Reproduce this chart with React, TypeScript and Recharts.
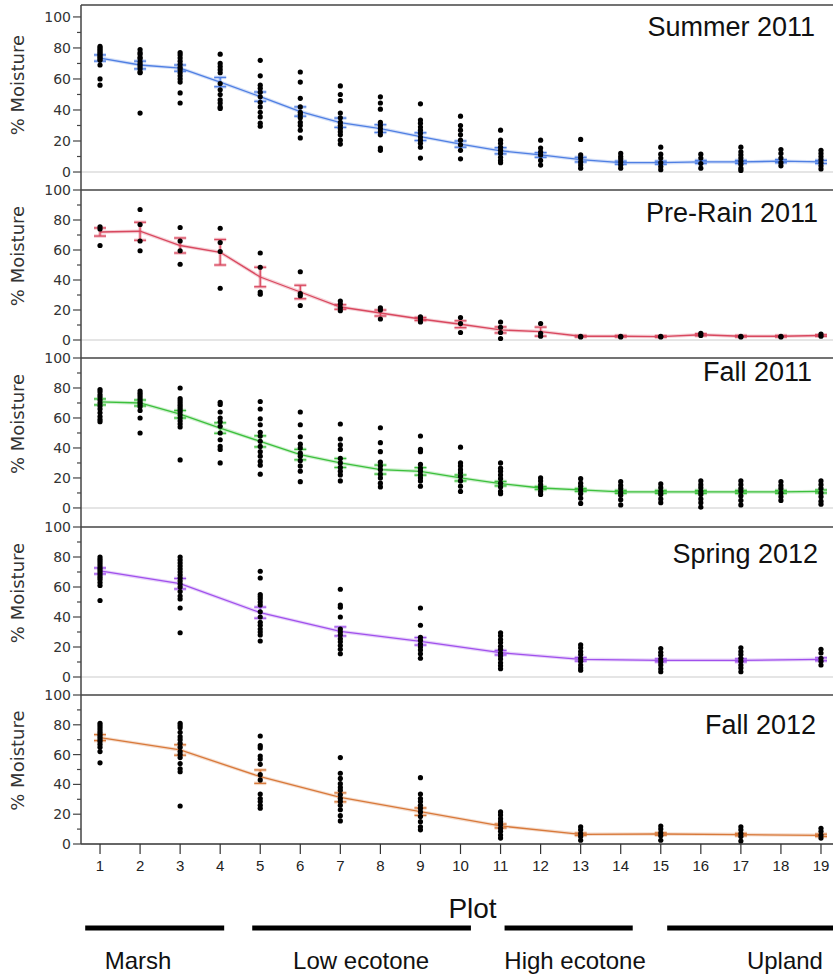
import {
  ComposedChart,
  Scatter,
  Line,
  ErrorBar,
  XAxis,
  YAxis,
  ReferenceLine,
  ReferenceDot,
} from "recharts";

// plots sampled in each season
const allPlots = [1, 2, 3, 4, 5, 6, 7, 8, 9, 10, 11, 12, 13, 14, 15, 16, 17, 18, 19];
const oddPlots = [1, 3, 5, 7, 9, 11, 13, 15, 17, 19];
const yTicks = [0, 10, 20, 30, 40, 50, 60, 70, 80, 90, 100];

// Summer 2011
const summerMean = [73.5, 69, 67, 58, 48.6, 39, 31.8, 28, 22.8, 18, 13.7, 11, 8, 6, 6, 6.5, 6.5, 7, 6.5];
const summerSE = [2, 2.5, 2, 3, 3, 3, 3, 2.5, 2.5, 2, 2, 1.5, 1.5, 1, 1, 1, 1, 1, 1];
const summerDots = [
  [81, 80, 79, 78, 77, 76, 75, 74, 73, 72, 69, 60, 56],
  [79, 77, 76, 74, 73, 71, 69.5, 68, 66.5, 64.5, 64, 38],
  [77, 75.5, 73.5, 71.5, 69.5, 67.5, 66, 64, 62, 60, 58, 51, 44.5],
  [76, 70, 68, 66, 64, 57, 53, 50, 46.5, 44.5, 42, 41],
  [72, 62, 56, 54, 51.5, 48.5, 45, 42, 38.5, 35.5, 31.5, 29.5],
  [64.5, 58, 47.5, 42, 38.5, 37, 35, 32, 30, 27, 22],
  [55.5, 50, 46, 38, 35, 32, 30, 28, 26, 24, 20.5, 18],
  [48.5, 44.5, 40.5, 32, 30, 28, 26, 24, 15.5, 14],
  [44, 33.5, 31.5, 29, 27, 25, 22.5, 20.5, 18.5, 16, 9],
  [36, 30, 27, 24, 20.5, 17.5, 14, 8.5],
  [27, 20.5, 18.5, 16, 14, 12, 9.5, 7.5, 6],
  [20.5, 15.5, 13, 11, 7.5, 4.5],
  [21, 11, 9, 6.5, 4.5, 2.5],
  [12, 10, 8.5, 6.5, 4.5, 2.5],
  [16, 11.5, 9, 6, 3.5, 1.5],
  [11.5, 9, 5.5, 2.5],
  [16, 13, 11, 9, 7, 5, 2.5, 1],
  [14.5, 12, 9, 6, 4],
  [14, 12, 10, 8, 6, 4, 2],
];

// Pre-Rain 2011
const preRainMean = [72, 72.5, 63, 58.5, 42, 32, 22, 18, 14, 10.5, 6.7, 5.6, 2.5, 2.5, 2.3, 3.5, 2.5, 2.5, 3];
const preRainSE = [2.7, 6, 5, 8.5, 6.5, 4.5, 1.5, 2, 1, 2.3, 2, 3, 0.5, 0.5, 0.5, 0.7, 0.5, 0.5, 0.5];
const preRainDots = [
  [75.5, 74, 63],
  [87, 77, 66, 59.5],
  [75, 66, 59.5, 50.5],
  [74.5, 65, 59, 34.5],
  [58, 48.5, 32, 30.5],
  [45.5, 31, 29.5, 23],
  [26, 24, 21.5, 19.5],
  [21.5, 20, 14],
  [15.5, 14, 12],
  [15, 11, 5],
  [12, 8.5, 5, 1],
  [11, 4.5, 2.5],
  [2.5, 2],
  [2.5, 2],
  [2.5, 2],
  [4.5, 3],
  [2.5, 2],
  [2.5, 2],
  [4, 2.5],
];

// Fall 2011
const fall11Mean = [70.7, 70, 62.5, 53.3, 44.4, 35.6, 30, 25.6, 24.4, 20, 16.2, 13.3, 12, 10.7, 10.7, 10.7, 10.7, 10.7, 11];
const fall11SE = [2, 2, 2.5, 3.5, 3.7, 3.5, 3, 3, 2.5, 2, 1.5, 1, 1, 1, 1, 1, 1, 1, 1];
const fall11Dots = [
  [79, 77.5, 75.5, 74, 72, 70, 68, 66, 63.5, 61, 59, 57.5],
  [78, 76.5, 75, 73.5, 72, 70.5, 69, 67.5, 65, 60, 50],
  [80, 73, 71.5, 70, 68.5, 67, 65.5, 64, 62, 60, 58, 56, 54, 32],
  [70.5, 69, 64, 60, 57.5, 54.5, 50, 45.5, 41, 39, 30],
  [71, 66, 59.5, 55.5, 50.5, 48, 44.5, 41, 37.5, 34.5, 31, 28.5, 22.5],
  [64, 55.5, 47.5, 42.5, 40, 36.5, 34.5, 31.5, 28, 24.5, 17.5],
  [56, 46, 42, 39, 33, 30, 27, 24.5, 22, 18],
  [53.5, 43.5, 37.5, 30.5, 28, 25.5, 22.5, 20, 16.5, 14],
  [48, 39, 37.5, 29, 26.5, 24.5, 22, 20, 18, 14.5],
  [40.5, 30, 28, 25.5, 23.5, 21, 18, 14.5, 11],
  [30, 26.5, 24.5, 22, 19.5, 16.5, 14, 11, 9.5],
  [20, 18, 15.5, 13.5, 11, 9],
  [19.5, 16.5, 14.5, 12, 9.5, 6.5, 3],
  [17.5, 15, 13, 10.5, 8.5, 5.5, 2],
  [16, 13.5, 11, 9, 6, 3.5],
  [18, 15.5, 13.5, 11, 9, 6, 3.5, 0.5],
  [18, 15.5, 13, 11, 8, 5, 2],
  [17.5, 15, 13, 10, 7.5, 5],
  [18, 15.5, 13, 10, 7.5, 4.5, 2.5],
];

// Spring 2012 (odd plots only)
const spring12Mean = [70.7, 62.2, 42.9, 30.4, 23.8, 16.2, 11.8, 11.1, 11.1, 11.8];
const spring12SE = [2, 3.5, 3.7, 3, 2.5, 1.5, 1.2, 1, 1, 1];
const spring12Dots = [
  [80, 78.5, 77, 75.5, 74, 72.5, 71, 69.5, 68, 66.5, 65, 63, 61, 51],
  [80, 78, 76, 74, 72, 70, 68, 66, 64, 62, 60, 57, 54, 52, 46, 29.5],
  [70.5, 66, 55, 53.5, 52, 50, 48, 43.5, 40, 36.5, 34.5, 32, 30, 28, 24],
  [58.5, 48, 46.5, 40, 32, 30, 28, 25.5, 23.5, 21, 18.5, 15.5],
  [46, 34.5, 26.5, 24.5, 22, 20, 18, 15.5, 12.5],
  [29.5, 27.5, 25, 23, 20.5, 18.5, 16, 14, 12, 9.5, 7.5, 5.5],
  [21.5, 19.5, 17, 15, 12.5, 10.5, 8, 6, 4.5],
  [19, 16.5, 14.5, 12, 10, 8, 5.5, 3.5],
  [19.5, 17, 15, 12.5, 10.5, 8, 6, 3.5],
  [18.5, 16, 12.5, 10.5, 8],
];

// Fall 2012 (odd plots only)
const fall12Mean = [71.4, 63.1, 45.2, 31.3, 21.7, 12.1, 6.5, 6.7, 6.3, 5.8];
const fall12SE = [2, 3.5, 4.5, 3, 2.5, 1.3, 0.8, 0.8, 0.8, 0.8];
const fall12Dots = [
  [81, 79.5, 78, 76.5, 75, 73.5, 72, 70.5, 69, 67, 65, 62, 54.5],
  [81, 79.5, 78, 75, 72, 70, 67.5, 65, 62, 60, 58, 54, 50.5, 48.5, 25.5],
  [72.5, 66, 64.5, 59, 57, 53.5, 46.5, 43, 33.5, 30.5, 28.5, 26, 24],
  [58, 47.5, 44, 40.5, 38, 36, 33, 30.5, 28.5, 26, 23, 19, 15.5],
  [44.5, 33.5, 30.5, 28.5, 26, 24, 21.5, 18.5, 15, 11.5, 9.5],
  [21.5, 19.5, 17, 15, 13, 10.5, 8.5, 6, 4],
  [11.5, 9.5, 7, 5, 2.5],
  [12, 10, 7.5, 5.5, 2.5],
  [11.5, 9.5, 7, 5, 2],
  [10.5, 8.5, 6, 4],
];

// zones along the transect
const zoneNames = ["Marsh", "Low ecotone", "High ecotone", "Upland"];
const zoneFrom = [0.63, 4.8, 11.1, 15.16];
const zoneTo = [4.1, 10.26, 14.3, 19.5];
const zoneLabelAt = [1.95, 7.52, 12.86, 18.1];

const seasons = [
  { title: "Summer 2011", plots: allPlots, mean: summerMean, se: summerSE, dots: summerDots },
  { title: "Pre-Rain 2011", plots: allPlots, mean: preRainMean, se: preRainSE, dots: preRainDots },
  { title: "Fall 2011", plots: allPlots, mean: fall11Mean, se: fall11SE, dots: fall11Dots },
  { title: "Spring 2012", plots: oddPlots, mean: spring12Mean, se: spring12SE, dots: spring12Dots },
  { title: "Fall 2012", plots: oddPlots, mean: fall12Mean, se: fall12SE, dots: fall12Dots },
];

// layout + colours per panel
const colors = ["#4f7fe3", "#d9485f", "#3cc03c", "#a050ec", "#d8793a"];
const panelLayout = [
  { top: 0, height: 190, mTop: 5, domain: [-11.6, 107.7], frame: 107.7, titleRight: 18, titleTop: 14 },
  { top: 190, height: 168, mTop: 0, domain: [-12, 100], frame: 100, titleRight: 15, titleTop: 200 },
  { top: 358, height: 169, mTop: 0, domain: [-12.7, 100], frame: 100, titleRight: 21, titleTop: 359 },
  { top: 527, height: 168, mTop: 0, domain: [-12, 100], frame: 100, titleRight: 15, titleTop: 541 },
  { top: 695, height: 180, mTop: 0, domain: [0, 100], frame: 100, titleRight: 17, titleTop: 712 },
];

const W = 833;
const PAD = 12; // extra room above each panel so the "100" label is not clipped
const X_DOMAIN = [0.525, 19.3];
const SANS = "'Liberation Sans', Arial, sans-serif";
const AXIS_FONT = "'DejaVu Sans', sans-serif";

const YTick = (props: any) => {
  const { x, y, payload } = props;
  const v = payload.value;
  const major = v % 20 === 0;
  return (
    <g>
      <line x1={x - (major ? 8 : 4)} x2={x} y1={y} y2={y} stroke="#444" strokeWidth={1.2} />
      {major && (
        <text x={x - 10} y={y} dy="0.36em" textAnchor="end" fontSize={14} fill="#333" fontFamily={AXIS_FONT}>
          {v}
        </text>
      )}
    </g>
  );
};

const Dot = (props: any) => {
  const { cx, cy } = props;
  if (cx == null || cy == null) return null;
  return <circle cx={cx} cy={cy} r={2.6} fill="#000" />;
};

const Panel = ({ idx }: { idx: number }) => {
  const s = seasons[idx];
  const L = panelLayout[idx];
  const color = colors[idx];
  const isLast = idx === seasons.length - 1;
  const pad = idx === 0 ? 0 : PAD;
  const pts = s.plots.flatMap((p, i) => s.dots[i].map((v) => ({ plot: p, v })));
  const lineData = s.plots.map((p, i) => ({ plot: p, mean: s.mean[i], se: s.se[i] }));
  const [dMin, dMax] = L.domain;

  const yLabel = (p: any) => {
    const vb = p && p.viewBox ? p.viewBox : { y: L.mTop + pad, height: L.height - L.mTop };
    const cy = vb.y + ((dMax - 56) / (dMax - dMin)) * vb.height;
    return (
      <text
        x={18}
        y={cy}
        transform={`rotate(-90, 18, ${cy})`}
        textAnchor="middle"
        dy="0.35em"
        fontSize={18}
        fill="#333"
        fontFamily={AXIS_FONT}
      >
        % Moisture
      </text>
    );
  };

  return (
    <div style={{ position: "absolute", left: 0, top: L.top - pad }}>
      <ComposedChart
        width={W}
        height={L.height + pad}
        margin={{ top: L.mTop + pad, right: 0, bottom: 0, left: 0 }}
      >
        <XAxis
          type="number"
          dataKey="plot"
          domain={X_DOMAIN}
          ticks={allPlots}
          interval={0}
          allowDataOverflow
          hide={!isLast}
          height={31}
          tickSize={10}
          tickMargin={6}
          axisLine={{ stroke: "#333", strokeWidth: 1.5 }}
          tickLine={{ stroke: "#333", strokeWidth: 1.2 }}
          tick={{ fontSize: 15, fill: "#222", fontFamily: SANS }}
        />
        <YAxis
          type="number"
          domain={L.domain}
          ticks={yTicks}
          interval={0}
          allowDataOverflow
          width={81}
          tickSize={0}
          tickMargin={0}
          tickLine={false}
          tick={<YTick />}
          axisLine={{ stroke: "#444", strokeWidth: 1.5 }}
          label={yLabel}
        />
        {!isLast && <ReferenceLine y={0} stroke="#dcdcdc" strokeWidth={1.5} />}
        <ReferenceLine y={L.frame} stroke="#444" strokeWidth={1.6} />
        <Scatter data={pts} dataKey="v" shape={<Dot />} isAnimationActive={false} />
        {/* soft halo under the mean line and error bars */}
        <Line
          data={lineData}
          dataKey="mean"
          type="linear"
          stroke={color}
          strokeOpacity={0.25}
          strokeWidth={3.5}
          dot={false}
          isAnimationActive={false}
        >
          <ErrorBar dataKey="se" width={6} stroke={color} strokeOpacity={0.3} strokeWidth={3.5} direction="y" />
        </Line>
        <Line
          data={lineData}
          dataKey="mean"
          type="linear"
          stroke={color}
          strokeWidth={1.3}
          dot={false}
          isAnimationActive={false}
        >
          <ErrorBar dataKey="se" width={6} stroke={color} strokeWidth={1.3} direction="y" />
        </Line>
      </ComposedChart>
      <div
        style={{
          position: "absolute",
          right: L.titleRight,
          top: L.titleTop - L.top + pad,
          fontSize: 27,
          lineHeight: "27px",
          fontFamily: SANS,
          color: "#111",
          whiteSpace: "nowrap",
        }}
      >
        {s.title}
      </div>
    </div>
  );
};

const ZoneStrip = () => (
  <div style={{ position: "absolute", left: 0, top: 875 }}>
    <ComposedChart width={W} height={101} margin={{ top: 0, right: 0, bottom: 0, left: 81 }}>
      <XAxis type="number" dataKey="plot" domain={X_DOMAIN} allowDataOverflow hide />
      <YAxis type="number" domain={[0, 100]} allowDataOverflow hide />
      <ReferenceDot
        x={10.3}
        y={67}
        r={0}
        fill="none"
        stroke="none"
        ifOverflow="visible"
        label={{ value: "Plot", position: "center", fontSize: 28, fill: "#111", fontFamily: SANS }}
      />
      {zoneNames.map((name, i) => (
        <ReferenceLine
          key={`bar-${name}`}
          segment={[
            { x: zoneFrom[i], y: 47.5 },
            { x: zoneTo[i], y: 47.5 },
          ]}
          stroke="#000"
          strokeWidth={5}
          ifOverflow="visible"
        />
      ))}
      {zoneNames.map((name, i) => (
        <ReferenceDot
          key={`lab-${name}`}
          x={zoneLabelAt[i]}
          y={15}
          r={0}
          fill="none"
          stroke="none"
          ifOverflow="visible"
          label={{ value: name, position: "center", fontSize: 24, fill: "#111", fontFamily: SANS }}
        />
      ))}
    </ComposedChart>
  </div>
);

const App = () => {
  return (
    <div
      style={{
        position: "absolute",
        left: 0,
        top: 0,
        width: W,
        height: 976,
        background: "#fff",
        overflow: "hidden",
      }}
    >
      {seasons.map((s, i) => (
        <Panel key={s.title} idx={i} />
      ))}
      <ZoneStrip />
    </div>
  );
};

export default App;
